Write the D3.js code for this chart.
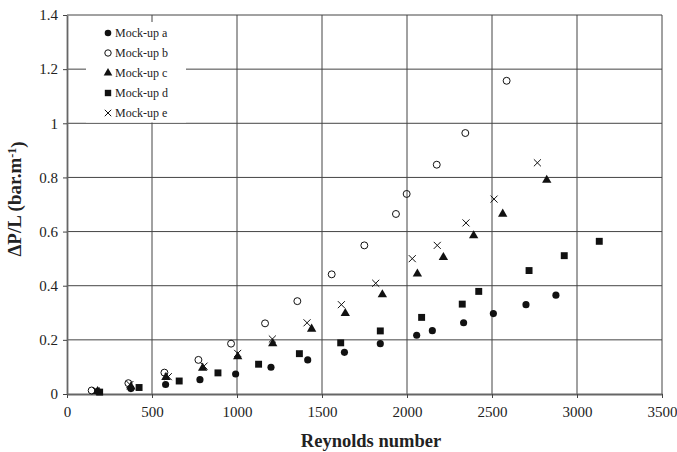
<!DOCTYPE html>
<html>
<head>
<meta charset="utf-8">
<script src="https://cdnjs.cloudflare.com/ajax/libs/d3/7.8.5/d3.min.js"></script>
<style>
  body { margin: 0; background: #fff; }
  text { font-family: "Liberation Serif", "Times New Roman", serif; fill: #222; }
</style>
</head>
<body>
<svg width="677" height="452"></svg>
<script>
// measured pressure drop vs Reynolds number, one array per mock-up
var mockA = [[180, 0.01], [376, 0.02], [580, 0.035], [782, 0.053], [992, 0.074], [1200, 0.099],
  [1416, 0.126], [1632, 0.154], [1843, 0.186], [2057, 0.217], [2149, 0.234], [2333, 0.263],
  [2508, 0.297], [2700, 0.33], [2876, 0.365]];
var mockB = [[145, 0.013], [361, 0.04], [573, 0.079], [773, 0.126], [965, 0.186], [1165, 0.261],
  [1355, 0.343], [1557, 0.442], [1749, 0.549], [1935, 0.665], [1998, 0.739], [2175, 0.847],
  [2343, 0.964], [2586, 1.157]];
var mockC = [[180, 0.01], [376, 0.027], [582, 0.062], [798, 0.096], [1004, 0.138], [1210, 0.186],
  [1439, 0.24], [1637, 0.298], [1855, 0.367], [2061, 0.444], [2214, 0.505], [2392, 0.585],
  [2563, 0.665], [2822, 0.79]];
var mockD = [[192, 0.007], [424, 0.024], [660, 0.048], [888, 0.078], [1127, 0.11], [1367, 0.149],
  [1610, 0.189], [1843, 0.233], [2086, 0.283], [2325, 0.332], [2422, 0.379], [2718, 0.456],
  [2925, 0.511], [3131, 0.564]];
var mockE = [[170, 0.012], [370, 0.035], [596, 0.064], [806, 0.103], [1004, 0.15], [1208, 0.203],
  [1412, 0.263], [1614, 0.33], [1816, 0.409], [2031, 0.5], [2178, 0.549], [2347, 0.632],
  [2512, 0.72], [2767, 0.854]];

var seriesNames = ['Mock-up a', 'Mock-up b', 'Mock-up c', 'Mock-up d', 'Mock-up e'];
var xTicks = [0, 500, 1000, 1500, 2000, 2500, 3000, 3500];
var yTicks = [0, 0.2, 0.4, 0.6, 0.8, 1, 1.2, 1.4];

var svg = d3.select('svg');
var width = +svg.attr('width');
var height = +svg.attr('height');
var margin = { top: 15, right: 15, bottom: 58, left: 67 };

var x = d3.scaleLinear().domain([0, 3500]).range([margin.left, width - margin.right]);
var y = d3.scaleLinear().domain([0, 1.4]).range([height - margin.bottom, margin.top]);

var markers = [
  { shape: d3.symbolCircle, size: 40, fill: '#111', stroke: 'none' },
  { shape: d3.symbolCircle, size: 38, fill: 'none', stroke: '#111' },
  { shape: d3.symbolTriangle, size: 38, fill: '#111', stroke: 'none' },
  { shape: d3.symbolSquare, size: 48, fill: '#111', stroke: 'none' },
  { shape: d3.symbolTimes, size: 34, fill: 'none', stroke: '#111' }
];
var series = [mockA, mockB, mockC, mockD, mockE];

// grid
svg.append('g')
  .selectAll('line')
  .data(yTicks.slice(1))
  .enter().append('line')
  .attr('x1', x(0)).attr('x2', x(3500))
  .attr('y1', function(d) { return y(d); })
  .attr('y2', function(d) { return y(d); })
  .attr('stroke', '#444').attr('stroke-width', 1);

svg.append('g')
  .selectAll('line')
  .data(xTicks.slice(1))
  .enter().append('line')
  .attr('y1', y(0)).attr('y2', y(1.4))
  .attr('x1', function(d) { return x(d); })
  .attr('x2', function(d) { return x(d); })
  .attr('stroke', '#444').attr('stroke-width', 1);

// axes
var xAxis = svg.append('g')
  .attr('transform', 'translate(0,' + y(0) + ')')
  .call(d3.axisBottom(x).tickValues(xTicks).tickFormat(d3.format('d')).tickSize(4).tickPadding(8).tickSizeOuter(0));
var yAxis = svg.append('g')
  .attr('transform', 'translate(' + x(0) + ',0)')
  .call(d3.axisLeft(y).tickValues(yTicks).tickFormat(d3.format('~g')).tickSize(4).tickPadding(5).tickSizeOuter(0));

[xAxis, yAxis].forEach(function(a) {
  a.selectAll('.domain').attr('stroke', '#666').attr('stroke-width', 1.8);
  a.selectAll('.tick line').attr('stroke', '#444');
  a.selectAll('text').style('font-size', '15px').attr('fill', '#222');
});

// legend box sits over the grid
var legend = svg.append('g');
legend.append('rect')
  .attr('x', 86).attr('y', 22).attr('width', 100).attr('height', 100.5)
  .attr('fill', '#fff');

// points
series.forEach(function(pts, i) {
  var m = markers[i];
  svg.append('g')
    .selectAll('path')
    .data(pts)
    .enter().append('path')
    .attr('d', d3.symbol().type(m.shape).size(m.size))
    .attr('transform', function(d) { return 'translate(' + x(d[0]) + ',' + y(d[1]) + ')'; })
    .attr('fill', m.fill)
    .attr('stroke', m.stroke)
    .attr('stroke-width', 1);
});

var rows = legend.selectAll('.row')
  .data(seriesNames)
  .enter().append('g')
  .attr('class', 'row')
  .attr('transform', function(d, i) { return 'translate(108,' + (33 + i * 20) + ')'; });

rows.append('path')
  .attr('d', function(d, i) { return d3.symbol().type(markers[i].shape).size(markers[i].size * 0.85)(); })
  .attr('fill', function(d, i) { return markers[i].fill; })
  .attr('stroke', function(d, i) { return markers[i].stroke; })
  .attr('stroke-width', 1);

rows.append('text')
  .attr('x', 7)
  .attr('dy', '0.35em')
  .style('font-size', '12px')
  .text(function(d) { return d; });

// axis titles
svg.append('text')
  .attr('x', 371).attr('y', 447)
  .attr('text-anchor', 'middle')
  .style('font-size', '18.5px').style('font-weight', 'bold')
  .text('Reynolds number');

var yTitle = svg.append('text')
  .attr('transform', 'translate(21,199) rotate(-90)')
  .attr('text-anchor', 'middle')
  .style('font-size', '19px').style('font-weight', 'bold');
yTitle.append('tspan').text('\u0394P/L (bar.m');
yTitle.append('tspan').attr('dy', '-0.45em').style('font-size', '12px').text('-1');
yTitle.append('tspan').attr('dy', '0.45em').text(')');
</script>
</body>
</html>
